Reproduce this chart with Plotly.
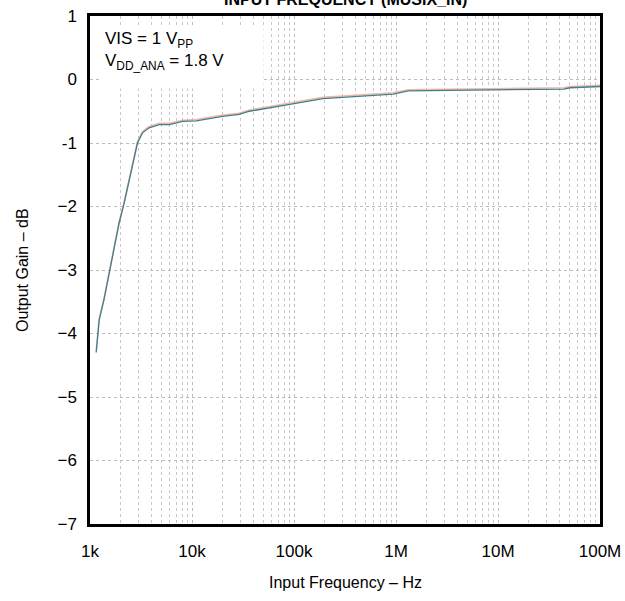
import plotly.graph_objects as go

freq_hz = [1150, 1230, 1370, 1600, 1930, 2160, 2420, 2920, 3270, 3800, 4770, 6000,
           8100, 11000, 20000, 29000, 36600, 57700, 91000, 192000, 473000, 940000,
           1320000, 6700000, 44000000, 51000000, 92000000, 100000000]
gain_db = [-4.30, -3.79, -3.47, -2.94, -2.26, -1.95, -1.58, -1.00, -0.84, -0.76, -0.71, -0.71,
           -0.66, -0.65, -0.58, -0.55, -0.50, -0.45, -0.39, -0.30, -0.26, -0.23,
           -0.18, -0.17, -0.15, -0.13, -0.11, -0.11]
gain_db_b = [-4.28, -3.77, -3.45, -2.92, -2.24, -1.93, -1.56, -0.98, -0.82, -0.74, -0.69, -0.69,
             -0.64, -0.63, -0.56, -0.53, -0.48, -0.43, -0.37, -0.28, -0.24, -0.21,
             -0.16, -0.15, -0.13, -0.11, -0.09, -0.09]

x_tickvals = [1e3, 1e4, 1e5, 1e6, 1e7, 1e8]
x_ticktext = ["1k", "10k", "100k", "1M", "10M", "100M"]
y_tickvals = [1, 0, -1, -2, -3, -4, -5, -6, -7]
y_ticktext = ["1", "0", "-1", "\u22122", "\u22123", "\u22124", "\u22125", "\u22126", "\u22127"]

font = "Liberation Sans, Arial, sans-serif"

fig = go.Figure()
fig.add_trace(go.Scatter(x=freq_hz, y=gain_db_b, mode="lines",
                         line=dict(color="#f2b8a0", width=1.5), showlegend=False))
fig.add_trace(go.Scatter(x=freq_hz, y=gain_db, mode="lines",
                         line=dict(color="#3d7f8c", width=1.3), showlegend=False))

fig.update_layout(
    width=625, height=601,
    margin=dict(l=90, r=25, t=16, b=77, autoexpand=False),
    paper_bgcolor="white", plot_bgcolor="white",
    font=dict(family=font, size=17, color="black"),
    xaxis=dict(type="log", range=[3, 8], tickvals=x_tickvals, ticktext=x_ticktext,
               showgrid=True, gridcolor="#bcbcbc", griddash="dot", gridwidth=1,
               minor=dict(showgrid=True, gridcolor="#c8c8c8", griddash="dot", gridwidth=1,
                          dtick="D1"),
               showline=True, linecolor="black", linewidth=2.5, mirror=True,
               ticks="", zeroline=False, automargin=False, ticklabelstandoff=10,
               tickfont=dict(size=17)),
    yaxis=dict(range=[-7, 1], tickvals=y_tickvals, ticktext=y_ticktext,
               showgrid=True, gridcolor="#bcbcbc", griddash="dot", gridwidth=1,
               showline=True, linecolor="black", linewidth=2.5, mirror=True,
               ticks="", zeroline=False, automargin=False, ticklabelstandoff=7,
               tickfont=dict(size=17)),
)

# white legend box covering grid
fig.add_shape(type="rect", xref="x", yref="y", x0=10**3.108, x1=10**4.703, y0=-0.14, y1=0.82,
              fillcolor="white", line=dict(width=0), layer="above")
fig.add_annotation(xref="paper", yref="paper", x=0.025, y=0.978, xanchor="left", yanchor="top",
                   align="left", showarrow=False,
                   text="VIS = 1 V<sub>PP</sub><br>V<sub>DD_ANA</sub> = 1.8 V",
                   font=dict(size=17, family=font))
fig.add_annotation(xref="paper", yref="paper", x=0.5, y=1, xanchor="center", yanchor="middle",
                   yshift=17, showarrow=False,
                   text="<b>INPUT FREQUENCY (MUSIX_IN)</b>", font=dict(size=16, family=font))
fig.add_annotation(xref="paper", yref="paper", x=0.5, y=0, xanchor="center", yanchor="middle",
                   yshift=-58, showarrow=False,
                   text="Input Frequency \u2013 Hz", font=dict(size=16, family=font))
fig.add_annotation(xref="paper", yref="paper", x=0, y=0.5, xanchor="center", yanchor="middle",
                   xshift=-68, textangle=-90, showarrow=False,
                   text="Output Gain \u2013 dB", font=dict(size=16, family=font))

fig.write_html("out.html", config={"displayModeBar": False},
               post_script="document.body.style.margin='0px';")
